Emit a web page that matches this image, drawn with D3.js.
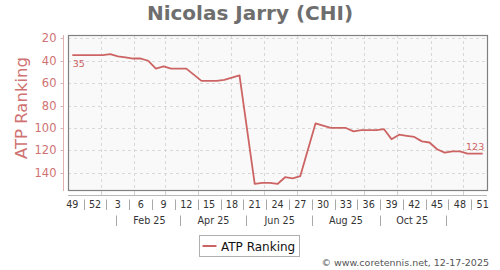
<!DOCTYPE html>
<html>
<head>
<meta charset="utf-8">
<script src="https://cdn.jsdelivr.net/npm/d3@7"></script>
<style>
  body { margin: 0; background: #fff; }
  svg { display: block; font-family: "DejaVu Sans", sans-serif; }
</style>
</head>
<body>
<svg id="chart" width="500" height="270"></svg>
<script>
// chart data
const title = "Nicolas Jarry (CHI)";
const seriesName = "ATP Ranking";
const weekLabels = [49, 50, 51, 52, 1, 2, 3, 4, 5, 6, 7, 8, 9, 10, 11, 12, 13, 14, 15, 16,
    17, 18, 19, 20, 21, 22, 23, 24, 25, 26, 27, 28, 29, 30, 31, 32, 33, 34, 35, 36,
    37, 38, 39, 40, 41, 42, 43, 44, 45, 46, 47, 48, 49, 50, 51];
const ranks = [35, 35, 35, 35, 35, 34, 36, 37, 38, 38, 40, 47, 45, 47, 47, 47, null, 58, 58, 58,
    57, 55, 53, null, 150, 149, 149, 150, 144, 145, 143, null, 96, 98, 100, 100, 100, 103, 102, 102,
    102, 101, 110, 106, 107, 108, 112, 113, 119, 122, 121, 121, 123, 123, 123];
const firstWeek = new Date(2024, 11, 6);
const monthLabels = ["Feb 25", "Apr 25", "Jun 25", "Aug 25", "Oct 25"];
const monthLabelDates = [new Date(2025, 1, 15), new Date(2025, 3, 15), new Date(2025, 5, 15),
    new Date(2025, 7, 15), new Date(2025, 9, 15)];
const yTicks = [20, 40, 60, 80, 100, 120, 140];
const footer = "\u00a9  www.coretennis.net, 12-17-2025";

const lineColor = "#cd6464";
const svg = d3.select("#chart");
const plot = {left: 68, right: 487, top: 35, bottom: 190};

const dates = weekLabels.map((w, i) => d3.timeDay.offset(firstWeek, 7 * i));
const x = d3.scaleTime()
    .domain([dates[0], dates[dates.length - 1]])
    .range([72.3, 482.7]);
const y = d3.scaleLinear().domain([17, 155.4]).range([plot.top, plot.bottom]);

// title
svg.append("text")
    .attr("x", 250).attr("y", 20)
    .attr("text-anchor", "middle")
    .attr("font-size", 20).attr("font-weight", "bold")
    .attr("fill", "#6e6e6e")
    .text(title);

// plot background
svg.append("rect")
    .attr("x", plot.left + 0.5).attr("y", plot.top + 0.5)
    .attr("width", plot.right - plot.left).attr("height", plot.bottom - plot.top)
    .attr("fill", "#f9f9f9");

// grid
const grid = svg.append("g").attr("stroke", "#d8d8d8").attr("stroke-dasharray", "3,3");
const monthLines = d3.timeMonth.range(d3.timeMonth.ceil(dates[0]), dates[dates.length - 1]);
grid.selectAll("line.v").data(monthLines).join("line")
    .attr("x1", d => Math.round(x(d)) + 0.5).attr("x2", d => Math.round(x(d)) + 0.5)
    .attr("y1", plot.top).attr("y2", plot.bottom);
grid.selectAll("line.h").data(yTicks).join("line")
    .attr("x1", plot.left).attr("x2", plot.right)
    .attr("y1", d => Math.round(y(d)) + 0.5).attr("y2", d => Math.round(y(d)) + 0.5);

svg.append("rect")
    .attr("x", plot.left + 0.5).attr("y", plot.top + 0.5)
    .attr("width", plot.right - plot.left).attr("height", plot.bottom - plot.top)
    .attr("fill", "none").attr("stroke", "#808080").attr("stroke-width", 1.2);

// y axis
const yAxis = svg.append("g").attr("transform", "translate(63.5,0)");
yAxis.append("line").attr("y1", plot.top).attr("y2", plot.bottom + 1)
    .attr("stroke", "#e0b0b0");
yAxis.selectAll("line.t").data(yTicks).join("line")
    .attr("x1", -3).attr("x2", 0)
    .attr("y1", d => Math.round(y(d)) + 0.5).attr("y2", d => Math.round(y(d)) + 0.5)
    .attr("stroke", "#e0b0b0");
yAxis.selectAll("text").data(yTicks).join("text")
    .attr("x", -7).attr("y", d => y(d))
    .attr("dy", "0.36em")
    .attr("text-anchor", "end")
    .attr("font-size", 11.5).attr("fill", "#d07272")
    .text(d => d);

svg.append("text")
    .attr("transform", "translate(27,108) rotate(-90)")
    .attr("text-anchor", "middle")
    .attr("font-size", 16.5).attr("fill", "#d07272")
    .text(seriesName);

// x axis
const xAxis = svg.append("g");
xAxis.append("line")
    .attr("x1", plot.left).attr("x2", plot.right)
    .attr("y1", 195.5).attr("y2", 195.5)
    .attr("stroke", "#b8b8b8");
xAxis.selectAll("line.t").data(monthLines).join("line")
    .attr("x1", d => Math.round(x(d)) + 0.5).attr("x2", d => Math.round(x(d)) + 0.5)
    .attr("y1", 191).attr("y2", 195)
    .attr("stroke", "#d0d0d0");

const weekIdx = weekLabels.map((w, i) => i).filter(i => i % 3 === 0);
xAxis.selectAll("text.w").data(weekIdx).join("text")
    .attr("x", i => x(dates[i])).attr("y", 207.5)
    .attr("text-anchor", "middle")
    .attr("font-size", 9.6).attr("fill", "#333")
    .text(i => weekLabels[i]);
xAxis.selectAll("line.ws").data(weekIdx.slice(0, -1)).join("line")
    .attr("x1", i => Math.round(x(d3.timeHour.offset(dates[i], 36 * 7))) + 0.5)
    .attr("x2", i => Math.round(x(d3.timeHour.offset(dates[i], 36 * 7))) + 0.5)
    .attr("y1", 199.5).attr("y2", 210)
    .attr("stroke", "#a8a8a8");

xAxis.selectAll("text.m").data(monthLabels).join("text")
    .attr("x", (d, i) => x(monthLabelDates[i])).attr("y", 223.5)
    .attr("text-anchor", "middle")
    .attr("font-size", 9.6).attr("fill", "#333")
    .text(d => d);
const monthSeps = monthLabelDates.map(d => d3.timeMonth.offset(d, -1))
    .concat([d3.timeMonth.offset(monthLabelDates[monthLabelDates.length - 1], 1)]);
xAxis.selectAll("line.ms").data(monthSeps).join("line")
    .attr("x1", d => Math.round(x(d)) + 0.5).attr("x2", d => Math.round(x(d)) + 0.5)
    .attr("y1", 215.5).attr("y2", 226)
    .attr("stroke", "#a8a8a8");

// series
const points = ranks.map((r, i) => ({date: dates[i], rank: r})).filter(p => p.rank !== null);
const line = d3.line().x(d => x(d.date)).y(d => y(d.rank));
svg.append("path")
    .datum(points)
    .attr("fill", "none")
    .attr("stroke", lineColor)
    .attr("stroke-width", 1.8)
    .attr("stroke-linejoin", "round")
    .attr("d", line);

const first = points[0], last = points[points.length - 1];
svg.append("text")
    .attr("x", x(first.date) + 0.5).attr("y", y(first.rank) + 12)
    .attr("font-size", 9.5).attr("fill", lineColor)
    .text(first.rank);
svg.append("text")
    .attr("x", x(last.date) + 1.5).attr("y", y(last.rank) - 4)
    .attr("text-anchor", "end")
    .attr("font-size", 9.5).attr("fill", lineColor)
    .text(last.rank);

// legend
const legend = svg.append("g").attr("transform", "translate(199.5,235.5)");
legend.append("rect").attr("width", 100).attr("height", 21)
    .attr("fill", "#fff").attr("stroke", "#b0b0b0");
legend.append("line").attr("x1", 3).attr("x2", 17).attr("y1", 10.5).attr("y2", 10.5)
    .attr("stroke", lineColor).attr("stroke-width", 2);
legend.append("text").attr("x", 21.5).attr("y", 15)
    .attr("font-size", 12).attr("fill", "#111")
    .text(seriesName);

svg.append("text")
    .attr("x", 489).attr("y", 266)
    .attr("text-anchor", "end")
    .attr("font-size", 9.5).attr("fill", "#555")
    .text(footer);
</script>
</body>
</html>
